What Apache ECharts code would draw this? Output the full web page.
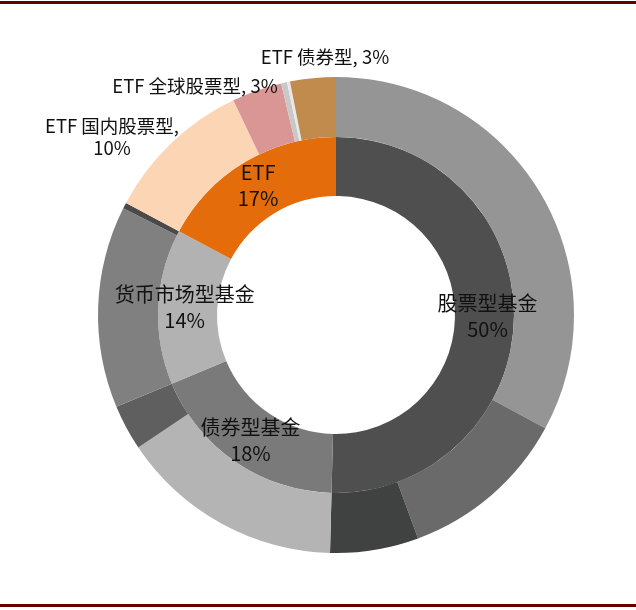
<!DOCTYPE html>
<html>
<head>
<meta charset="utf-8">
<script src="https://cdn.jsdelivr.net/npm/echarts@6/dist/echarts.min.js"></script>
<style>
  html, body { margin: 0; padding: 0; background: #fff; }
  #chart { width: 636px; height: 610px; }
</style>
</head>
<body>
<div id="chart"></div>
<script>
// inner ring: fund types
const innerNames = ['股票型基金', '债券型基金', '货币市场型基金', 'ETF'];
const innerValues = [50.4, 18.3, 14.1, 17.2];

// outer ring: sub types, clockwise from 12 o'clock
const outerNames = ['股票型-1', '股票型-2', '股票型-3', '债券型-1', '债券型-2',
    '货币型-1', '货币型-2', 'ETF 国内股票型', 'ETF 全球股票型', 'ETF 其他-1', 'ETF 其他-2', 'ETF 债券型'];
const outerValues = [32.9, 11.5, 6.0, 15.2, 3.1, 13.7, 0.4, 10.1, 3.4, 0.4, 0.2, 3.1];

const innerColors = ['#4f4f4f', '#7a7a7a', '#b2b2b2', '#e46c0a'];
const outerColors = ['#959595', '#6a6a6a', '#404141', '#b4b4b4', '#5f5f5f',
    '#808080', '#4a4a4a', '#fcd5b5', '#d99694', '#c8c8c8', '#e8e8e8', '#c08b4c'];

// where the outer labels sit (text centre)
const outerLabelPos = {
    'ETF 国内股票型': [112, 137],
    'ETF 全球股票型': [195, 86],
    'ETF 债券型': [325, 57]
};
const outerLabelBreak = {
    'ETF 国内股票型': ',\n',
    'ETF 全球股票型': ', ',
    'ETF 债券型': ', '
};

const font = "'Noto Sans CJK SC', 'Noto Sans', sans-serif";

var myChart = echarts.init(document.getElementById('chart'));
const option = {
    backgroundColor: '#fff',
    animation: false,
    graphic: [
        { type: 'rect', shape: { x: 0, y: 1, width: 636, height: 3 }, style: { fill: '#620000' } },
        { type: 'rect', shape: { x: 0, y: 604, width: 636, height: 3 }, style: { fill: '#620000' } }
    ],
    series: [
        {
            name: '基金类型',
            type: 'pie',
            center: [336, 315],
            radius: [119, 178],
            startAngle: 90,
            percentPrecision: 2,
            avoidLabelOverlap: false,
            itemStyle: { borderWidth: 0 },
            label: {
                position: 'inner',
                formatter: p => p.name + '\n' + Math.round(p.percent) + '%',
                color: '#111',
                fontFamily: font,
                fontSize: 20,
                lineHeight: 26
            },
            labelLine: { show: false },
            data: innerNames.map((n, i) => ({
                name: n,
                value: innerValues[i],
                itemStyle: { color: innerColors[i] }
            }))
        },
        {
            name: '细分类型',
            type: 'pie',
            center: [336, 315],
            radius: [178, 238],
            startAngle: 90,
            percentPrecision: 2,
            avoidLabelOverlap: false,
            itemStyle: { borderWidth: 0 },
            label: {
                show: false,
                position: 'outside',
                color: '#111',
                fontFamily: font,
                fontSize: 18.5,
                lineHeight: 22,
                formatter: p => p.name + outerLabelBreak[p.name] + Math.round(p.percent) + '%'
            },
            labelLine: { show: false },
            labelLayout: function (params) {
                const p = outerLabelPos[outerNames[params.dataIndex]];
                if (!p) return {};
                return { x: p[0], y: p[1], align: 'center', verticalAlign: 'middle' };
            },
            data: outerNames.map((n, i) => ({
                name: n,
                value: outerValues[i],
                itemStyle: { color: outerColors[i] },
                label: { show: !!outerLabelPos[n] }
            }))
        }
    ]
};
myChart.setOption(option);
</script>
</body>
</html>
